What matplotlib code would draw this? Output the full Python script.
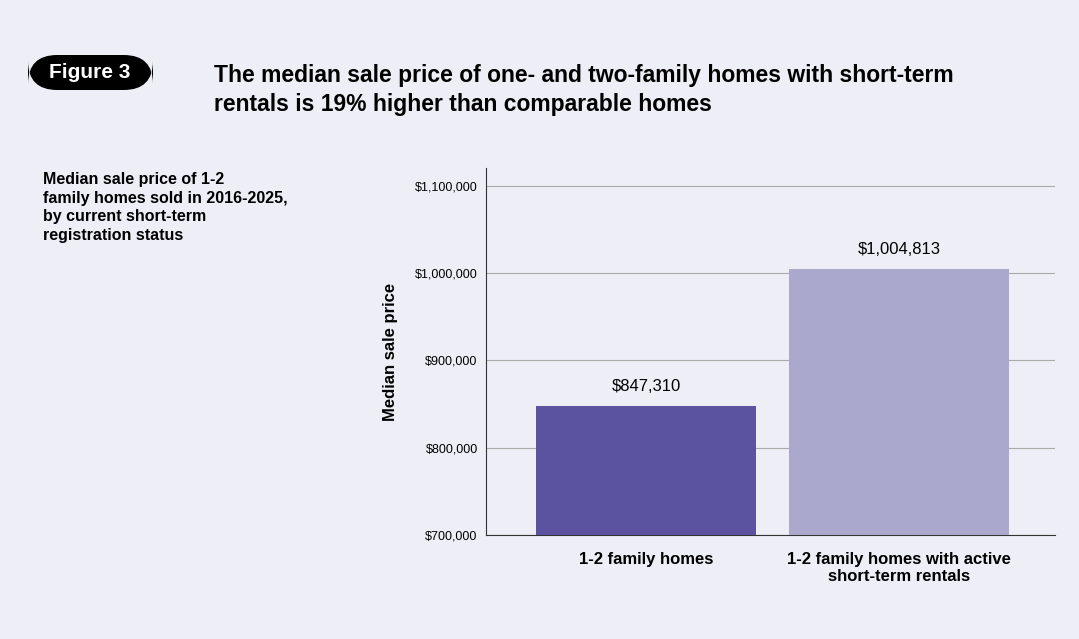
import matplotlib.pyplot as plt
from matplotlib.patches import FancyBboxPatch
from matplotlib.ticker import FuncFormatter

categories = ["1-2 family homes", "1-2 family homes with active\nshort-term rentals"]
prices = [847310, 1004813]
bar_colors = ["#5B53A0", "#ABA8CD"]
yticks = [700000, 800000, 900000, 1000000, 1100000]

plt.rcParams['font.family'] = ['Liberation Sans', 'DejaVu Sans']
bg = "#EEEEF6"

fig = plt.figure(figsize=(10.79, 6.39), dpi=100, facecolor=bg)
ax = fig.add_axes([0.4504, 0.1628, 0.5274, 0.5743], facecolor=bg)

x = range(len(categories))
ax.bar(x, [p - 700000 for p in prices], bottom=700000, width=0.87, color=bar_colors, zorder=3)
for i, p in enumerate(prices):
    ax.text(i, p + 14000, f"${p:,}", ha='center', va='bottom', fontsize=12)

ax.set_xlim(-0.632, 1.617)
ax.set_ylim(700000, 1120600)
ax.set_yticks(yticks)
ax.yaxis.set_major_formatter(FuncFormatter(lambda v, _: f"${v:,.0f}"))
ax.tick_params(axis='y', labelsize=9, length=0, pad=6)
ax.set_xticks(list(x))
ax.set_xticklabels(categories, fontsize=12, fontweight='bold')
ax.tick_params(axis='x', length=0, pad=12)
ax.grid(axis='y', color='#AAAAAA', linewidth=0.8, zorder=0)
for s in ['top', 'right']:
    ax.spines[s].set_visible(False)
ax.spines['left'].set_color('#333333')
ax.spines['bottom'].set_color('#333333')
ax.set_ylabel("Median sale price", fontsize=12, fontweight='bold', labelpad=12)

# header
pill = FancyBboxPatch((28 / 1079, 1 - 90 / 639), 125 / 1079, 35 / 639,
                      boxstyle="round,pad=0,rounding_size=0.027",
                      transform=fig.transFigure, facecolor='black', edgecolor='none',
                      mutation_aspect=1079 / 639)
fig.patches.append(pill)
fig.text(90 / 1079, 1 - 73 / 639, "Figure 3", color='white', fontsize=15,
         fontweight='bold', ha='center', va='center')
fig.text(214 / 1079, 1 - 90 / 639,
         "The median sale price of one- and two-family homes with short-term\nrentals is 19% higher than comparable homes",
         fontsize=16.5, fontweight='bold', ha='left', va='center', linespacing=1.3)
fig.text(43 / 1079, 1 - 172 / 639,
         "Median sale price of 1-2\nfamily homes sold in 2016-2025,\nby current short-term\nregistration status",
         fontsize=11.5, fontweight='bold', ha='left', va='top', linespacing=1.3)

fig.savefig("out.png", dpi=100, facecolor=bg)
